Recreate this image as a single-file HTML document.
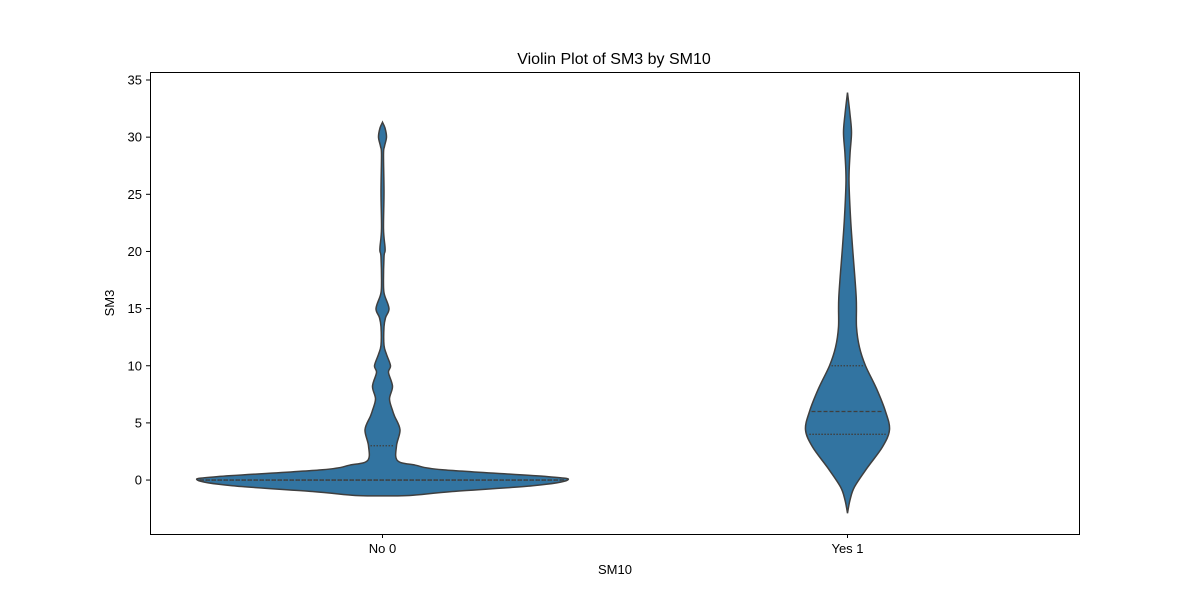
<!DOCTYPE html>
<html><head><meta charset="utf-8"><style>
body{margin:0;background:#fff}
svg text{font-family:"Liberation Sans","DejaVu Sans",sans-serif;fill:#000}
</style></head><body>
<svg id="c" width="1200" height="600" xmlns="http://www.w3.org/2000/svg">
<rect width="1200" height="600" fill="#fff"/>
<text x="614" y="64" font-size="16" text-anchor="middle">Violin Plot of SM3 by SM10</text>
<text x="615" y="574" font-size="13" text-anchor="middle">SM10</text>
<text transform="translate(114,303) rotate(-90)" font-size="13" text-anchor="middle">SM3</text>
<g id="plot"></g>
<rect x="150.5" y="72.5" width="929" height="462" fill="none" stroke="#000" stroke-width="1"/>
</svg>
<script>
const categories = ["No 0", "Yes 1"];
const yTicks = [0, 5, 10, 15, 20, 25, 30, 35];
const noValues = [31.3,30.8,30,29.2,28.5,25.2,22,20.4,20,19.5,17,16.2,15,14.2,13.4,11.8,11,10,9.4,8.2,7.1,6.1,5.6,4.4,3,1.7,1.3,0.9,0.3,0,-0.5,-1,-1.35,-1.38];
const noDensity = [0,2.5,4,2,1,1.5,1,2.5,2.5,1.5,1,2,6.5,3,1.5,1.5,4,8,6,10,7,10,12,17.5,14,15,33,60,165,185,150,70,27,0];
const yesValues = [33.9,32,30.4,28.5,26.2,23,20.4,16,13.4,11.6,10,8,6,4.4,2.9,1.1,-0.6,-1.75,-2.9];
const yesDensity = [0,2.5,4,2.5,1.5,3,5,8.7,9,12,18,29,38,42,35,20,7,2.5,0];
const noQuartiles = [0, 0, 3];
const yesQuartiles = [4, 6, 10];
const densityScale = 1;

const x0=150, x1=1080, yTop=72, yBot=534, yMin=-4.72, yMax=35.7;
const yS = v => yBot - (v - yMin) / (yMax - yMin) * (yBot - yTop);
const xS = i => x0 + (930 / categories.length) * (i + 0.5);
const NS="http://www.w3.org/2000/svg";
const plot=document.getElementById('plot');
function mk(t,a){const e=document.createElementNS(NS,t);for(const k in a)e.setAttribute(k,a[k]);return e;}
function crPath(pts){let d=`M${pts[0][0]},${pts[0][1]}`;for(let i=0;i<pts.length-1;i++){const p0=pts[Math.max(0,i-1)],p1=pts[i],p2=pts[i+1],p3=pts[Math.min(pts.length-1,i+2)];d+=` C${p1[0]+(p2[0]-p0[0])/6},${p1[1]+(p2[1]-p0[1])/6} ${p2[0]-(p3[0]-p1[0])/6},${p2[1]-(p3[1]-p1[1])/6} ${p2[0]},${p2[1]}`;}return d;}
function halfAt(vals,dens,v){for(let i=0;i<vals.length-1;i++){const a=vals[i],b=vals[i+1];if((v<=a&&v>=b)){const t=(a-v)/(a-b||1);return dens[i]+(dens[i+1]-dens[i])*t;}}return 0;}

yTicks.forEach(t=>{const y=yS(t);
  const l=mk('line',{x1:146,x2:150,y1:y,y2:y,stroke:'#000'});
  plot.appendChild(l);
  const tx=mk('text',{x:142,y:y+4.5,'font-size':13,'text-anchor':'end'});tx.textContent=t;
  plot.appendChild(tx);});

const sets=[[noValues,noDensity,noQuartiles],[yesValues,yesDensity,yesQuartiles]];
categories.forEach((c,i)=>{const cx=xS(i);const [vals,dens,q]=sets[i];
  const right=vals.map((v,k)=>[cx+dens[k]*densityScale,yS(v)]);
  const left=vals.map((v,k)=>[cx-dens[k]*densityScale,yS(v)]).reverse();
  const d=crPath(right)+' L'+crPath(left).slice(1)+' Z';
  const p=mk('path',{d:d,fill:'#3274a1',stroke:'#3f3f3f','stroke-width':1.5});
  plot.appendChild(p);
  q.forEach((qv,k)=>{const h=halfAt(vals,dens,qv)*densityScale;const y=yS(qv);
    const l=mk('line',{x1:cx-h+2,x2:cx+h-2,y1:y,y2:y,stroke:'#3f3f3f','stroke-width':1.3,'stroke-dasharray':k===1?'4,2':'1.5,1.5'});
    plot.appendChild(l);});
  const t=mk('line',{x1:cx,x2:cx,y1:534,y2:538,stroke:'#000'});
  plot.appendChild(t);
  const tx=mk('text',{x:cx,y:553,'font-size':13,'text-anchor':'middle'});tx.textContent=c;
  plot.appendChild(tx);
});
</script>
</body></html>
